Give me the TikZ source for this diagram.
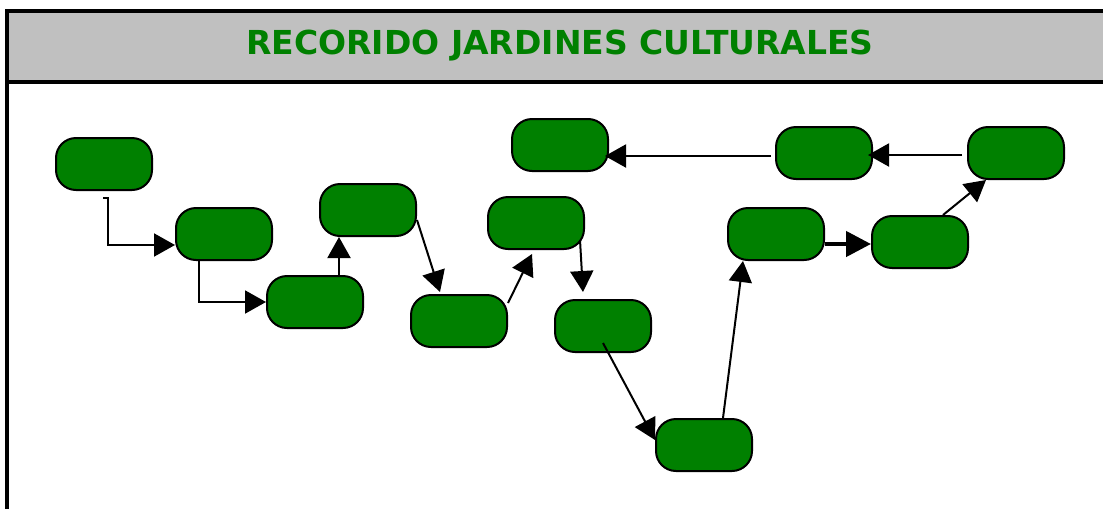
\documentclass[tikz,border=0pt]{standalone}
\usepackage{fontspec}
\newfontfamily\titlefont{DejaVu Sans}
\usetikzlibrary{arrows.meta,positioning,calc}
\definecolor{jardin}{RGB}{0,128,0}
\definecolor{cabecera}{RGB}{192,192,192}

\begin{document}
\begin{tikzpicture}[x=1pt, y=-1pt, >={Triangle[length=21pt,width=23pt]},
  parada/.style={draw, line width=2pt, fill=jardin, minimum width=96pt, minimum height=52pt, rounded corners=20pt, inner sep=0pt},
  flecha/.style={->, line width=2pt}]
\useasboundingbox (0,0) rectangle (1103,509);
% cabecera
\fill[cabecera] (7,11) rectangle (1103,82);
\draw[line width=3.5pt] (1103,11) -- (7,11) -- (7,509);
\draw[line width=3.5pt] (7,82) -- (1103,82);
\node (titulo) at (560,46) {\titlefont\fontsize{33}{38}\selectfont\bfseries\color{jardin}RECORIDO JARDINES CULTURALES};

% paradas
\node[parada] (j1) at (104,164) {};
\node[parada] (j2) at (224,234) {};
\node[parada] (j3) at (315,302) {};
\node[parada] (j4) at (368,210) {};
\node[parada] (j5) at (459,321) {};
\node[parada] (j6) at (536,223) {};
\node[parada] (j7) at (603,326) {};
\node[parada] (j8) at (704,445) {};
\node[parada] (j9) at (776,234) {};
\node[parada] (j10) at (920,242) {};
\node[parada] (j11) at (1016,153) {};
\node[parada] (j12) at (824,153) {};
\node[parada] (j13) at (560,145) {};

% recorrido
\draw[flecha] ([shift={(-1pt,-7pt)}]j1.south) -- ++(5,0) |- ([yshift=-11pt]j2.west);
\draw[flecha] ([xshift=-25pt]j2.south) |- (j3.west);
\draw[flecha] ([xshift=24pt]j3.north) -- ([xshift=24pt]j3.north |- j4.south);
\draw[flecha] ([yshift=-10pt]j4.east) -- ([shift={(-19pt,2pt)}]j5.north);
\draw[flecha] ([yshift=18pt]j5.east) -- ([shift={(-4pt,-4pt)}]j6.south);
\draw[flecha] ([shift={(-5pt,-17pt)}]j6.east) -- ([shift={(-20pt,7pt)}]j7.north);
\draw[flecha] ([yshift=-17pt]j7.center) -- ([yshift=5pt]j8.west);
\draw[flecha] ([xshift=19pt]j8.north) -- ([xshift=-33pt]j9.south);
\draw[-{Triangle[length=25pt,width=25pt]}, line width=4.5pt] ([yshift=-10pt]j9.east) -- ([yshift=-10pt]j9.east -| j10.west);
\draw[flecha] ([xshift=23pt]j10.north) -- ([xshift=-30pt]j11.south);
\draw[flecha] ([shift={(-5pt,-2pt)}]j11.west) -- ([shift={(-5pt,-2pt)}]j11.west -| j12.east);
\draw[flecha] ([shift={(-4pt,-3pt)}]j12.west) -- ([shift={(-4pt,-3pt)}]j12.west -| j13.east);
\end{tikzpicture}
\end{document}
